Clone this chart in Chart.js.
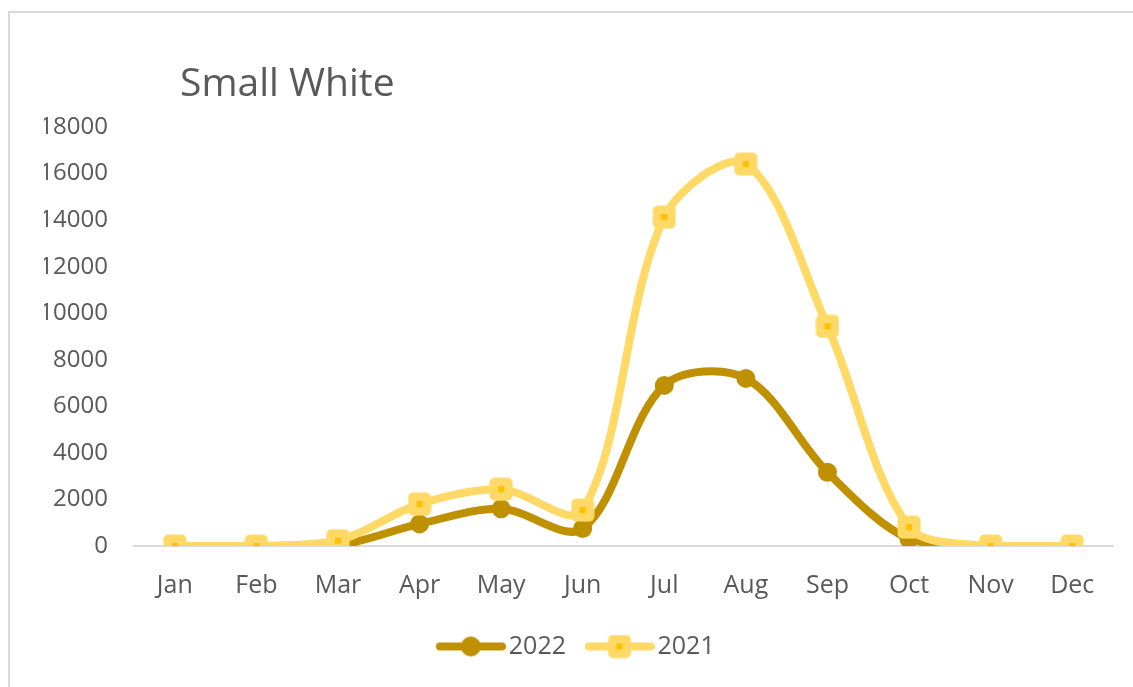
<!DOCTYPE html>
<html>
<head>
<meta charset="utf-8">
<title>Small White</title>
<script src="https://cdn.jsdelivr.net/npm/chart.js@4/dist/chart.umd.min.js"></script>
<style>
    html, body { margin: 0; padding: 0; background: #fff; overflow: hidden; }
    #moldura {
        position: absolute; left: 8px; top: 11px; width: 1200px; height: 800px;
        border-left: 2px solid #d9d9d9; border-top: 2px solid #d9d9d9;
    }
    #wrap { position: absolute; left: 0; top: 0; width: 1133px; height: 687px; }
</style>
</head>
<body>
<div id="moldura"></div>
<div id="wrap"><canvas id="graficoLinhas"></canvas></div>
<script>
// Dados do gráfico
const meses = ['Jan', 'Feb', 'Mar', 'Apr', 'May', 'Jun', 'Jul', 'Aug', 'Sep', 'Oct', 'Nov', 'Dec'];
const valores2022 = [0, 0, 30, 950, 1600, 750, 6900, 7200, 3170, 300, 0, 0];
const valores2021 = [0, 0, 230, 1800, 2440, 1540, 14130, 16410, 9440, 810, 0, 0];
const eixoYMax = 18000;
const eixoYPasso = 2000;
const titulo = 'Small White';

const corEscura = '#BF9000';
const corClara = '#FFD966';
const corMiolo = '#FFC000';
const corTexto = '#595959';
const fonte = "'Open Sans', 'Noto Sans', sans-serif";

// Marcador quadrado arredondado (2021)
function criarMarcadorQuadrado(larguraTotal) {
    const c = document.createElement('canvas');
    c.width = larguraTotal;
    c.height = 24;
    const ctx = c.getContext('2d');
    const cx = larguraTotal / 2;
    if (larguraTotal > 24) {
        ctx.strokeStyle = corClara;
        ctx.lineWidth = 8;
        ctx.lineCap = 'round';
        ctx.beginPath();
        ctx.moveTo(4, 12);
        ctx.lineTo(larguraTotal - 4, 12);
        ctx.stroke();
    }
    ctx.fillStyle = corClara;
    ctx.beginPath();
    ctx.roundRect(cx - 11.5, 0.5, 23, 23, 5);
    ctx.fill();
    ctx.fillStyle = corMiolo;
    ctx.fillRect(cx - 3, 9, 6, 6);
    return c;
}

// Marcador redondo para a legenda (2022)
function criarLegendaCirculo(larguraTotal) {
    const c = document.createElement('canvas');
    c.width = larguraTotal;
    c.height = 24;
    const ctx = c.getContext('2d');
    ctx.strokeStyle = corEscura;
    ctx.fillStyle = corEscura;
    ctx.lineWidth = 8;
    ctx.lineCap = 'round';
    ctx.beginPath();
    ctx.moveTo(4, 12);
    ctx.lineTo(larguraTotal - 4, 12);
    ctx.stroke();
    ctx.beginPath();
    ctx.arc(larguraTotal / 2, 12, 10, 0, Math.PI * 2);
    ctx.fill();
    return c;
}

const marcador2021 = criarMarcadorQuadrado(24);
const legenda2021 = criarMarcadorQuadrado(70);
const legenda2022 = criarLegendaCirculo(70);

// Título desenhado no canvas, acima da área do gráfico
const pluginTitulo = {
    id: 'tituloExcel',
    afterDraw(chart) {
        const ctx = chart.ctx;
        const area = chart.chartArea;
        ctx.save();
        ctx.font = '39px ' + fonte;
        ctx.fillStyle = corTexto;
        ctx.textBaseline = 'middle';
        ctx.textAlign = 'left';
        ctx.fillText(titulo, area.left + 46, area.top - 42);
        ctx.restore();
    }
};

const ctxLinhas = document.getElementById('graficoLinhas');
const chartLinhas = new Chart(ctxLinhas, {
    type: 'line',
    data: {
        labels: meses,
        datasets: [{
            label: '2022',
            data: valores2022,
            borderColor: corEscura,
            backgroundColor: corEscura,
            borderWidth: 8,
            tension: 0.33,
            pointStyle: 'circle',
            pointRadius: 8,
            pointBorderWidth: 3,
            pointBackgroundColor: corEscura,
            pointBorderColor: corEscura,
            order: 2
        }, {
            label: '2021',
            data: valores2021,
            borderColor: corClara,
            backgroundColor: corClara,
            borderWidth: 8,
            tension: 0.33,
            pointStyle: marcador2021,
            pointRadius: 12,
            order: 1
        }]
    },
    options: {
        responsive: true,
        maintainAspectRatio: false,
        animation: false,
        devicePixelRatio: 1,
        layout: {
            padding: { left: 44, right: 17, top: 127, bottom: 18 }
        },
        elements: {
            line: { borderCapStyle: 'round', borderJoinStyle: 'round', capBezierPoints: true }
        },
        scales: {
            x: {
                offset: true,
                grid: { display: false, drawTicks: false },
                border: { display: true, color: '#d9d9d9', width: 2 },
                ticks: {
                    color: corTexto,
                    padding: 25,
                    maxRotation: 0,
                    font: { family: fonte, size: 25 }
                },
                afterFit(axis) { axis.height = 60; }
            },
            y: {
                min: 0,
                max: eixoYMax,
                grid: { display: false, drawTicks: false },
                border: { display: false },
                ticks: {
                    stepSize: eixoYPasso,
                    color: corTexto,
                    padding: 26,
                    font: { family: fonte, size: 24 },
                    callback: (valor) => String(valor)
                },
                afterFit(axis) { axis.width = 90; }
            }
        },
        plugins: {
            title: { display: false },
            tooltip: { enabled: false },
            legend: {
                position: 'bottom',
                labels: {
                    usePointStyle: true,
                    pointStyleWidth: 51,
                    padding: 28,
                    color: corTexto,
                    font: { family: fonte, size: 25 },
                    sort: (a, b) => a.datasetIndex - b.datasetIndex,
                    generateLabels(chart) {
                        const itens = Chart.defaults.plugins.legend.labels.generateLabels(chart);
                        itens.forEach(item => {
                            item.pointStyle = item.datasetIndex === 0 ? legenda2022 : legenda2021;
                        });
                        return itens;
                    }
                }
            }
        }
    },
    plugins: [pluginTitulo]
});
</script>
</body>
</html>
